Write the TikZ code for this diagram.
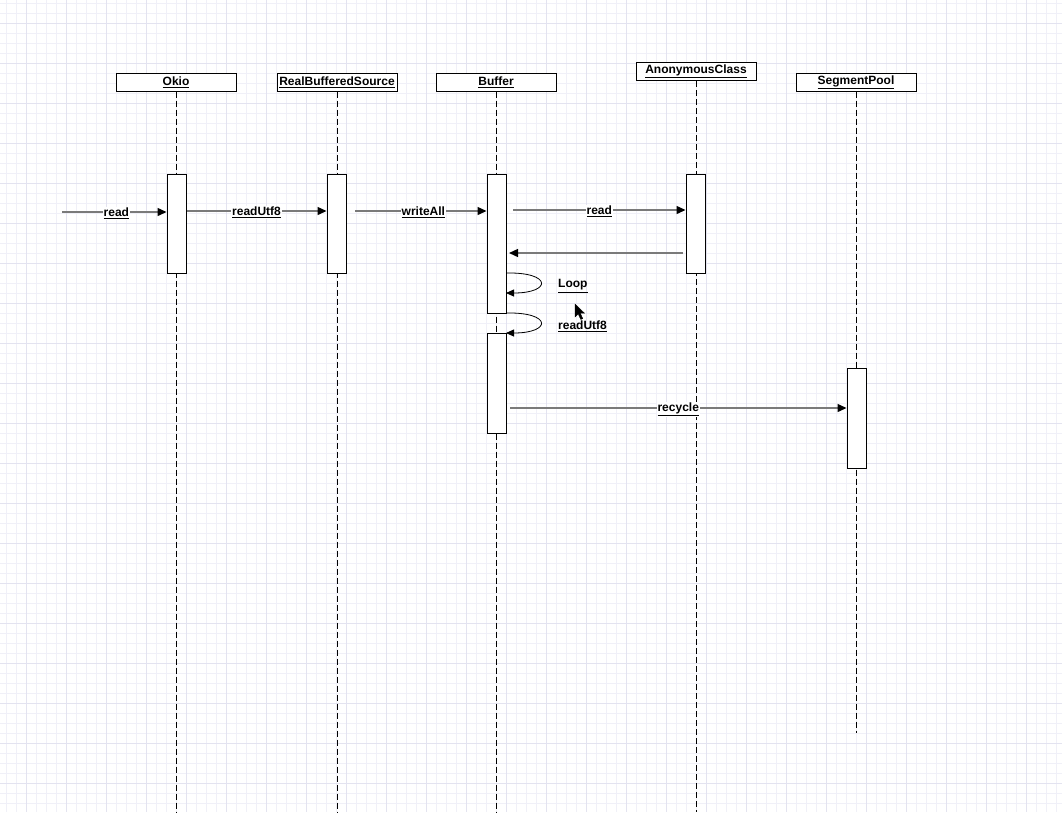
\documentclass[tikz,border=0pt]{standalone}
\usepackage{fontspec}
\setmainfont{Liberation Sans}
\usetikzlibrary{arrows.meta}
\definecolor{gridminor}{HTML}{F0F0F8}
\definecolor{gridmajor}{HTML}{E3E3F0}
\definecolor{msggray}{HTML}{7A7A7A}
\tikzset{
  head/.style={draw=black, fill=white, line width=1pt, minimum width=120pt, minimum height=18pt, inner sep=0pt,
    font=\bfseries\fontsize{12}{14}\selectfont},
  actbox/.style={draw=black, fill=white, line width=1pt, minimum width=19pt, inner sep=0pt},
  life/.style={draw=black, line width=1pt, dash pattern=on 6pt off 3pt},
  msg/.style={draw=msggray, line width=1.4pt, -{Triangle[length=9pt,width=8pt,fill=black,color=black]}},
  selfmsg/.style={draw=black, line width=0.8pt, -{Triangle[length=8pt,width=7pt,fill=black,color=black]}},
  lbl/.style={fill=white, inner sep=1pt, yshift=-1.5pt, font=\bfseries\fontsize{12}{14}\selectfont},
  lblplain/.style={inner sep=1pt, font=\bfseries\fontsize{12}{14}\selectfont}
}
\begin{document}
\begin{tikzpicture}[x=1pt,y=-1pt]
\useasboundingbox (0,0) rectangle (1062,812);
\fill[white] (0,0) rectangle (1062,812);
% grid
\foreach \x in {6,16,...,1062} \draw[gridminor, line width=0.8pt] (\x,0) -- (\x,812);
\foreach \y in {3,13,...,812} \draw[gridminor, line width=0.8pt] (0,\y) -- (1062,\y);
\foreach \x in {26,66,...,1062} \draw[gridmajor, line width=0.9pt] (\x,0) -- (\x,812);
\foreach \y in {23,63,...,812} \draw[gridmajor, line width=0.9pt] (0,\y) -- (1062,\y);

% headers
\node[head] (okio) at (176,82) {\underline{Okio}};
\node[head] (rbs) at (337,82) {\underline{RealBufferedSource}};
\node[head] (buf) at (496,82) {\underline{Buffer}};
\node[head] (anon) at (696,71.5) {\underline{AnonymousClass}};
\node[head] (seg) at (856,82) {\underline{SegmentPool}};

% lifeline ends
\coordinate (okioEnd) at (176,812);
\coordinate (rbsEnd) at (337,812);
\coordinate (bufEnd) at (496,812);
\coordinate (anonEnd) at (696,812);
\coordinate (segEnd) at (856,733);
\draw[life] (okio.south) -- (okioEnd);
\draw[life] (rbs.south) -- (rbsEnd);
\draw[life] (buf.south) -- (bufEnd);
\draw[life] (anon.south) -- (anonEnd);
\draw[life] (seg.south) -- (segEnd);

% activations
\node[actbox, minimum height=99pt] (okA) at (176.5,223.5) {};
\node[actbox, minimum height=99pt] (rbsA) at (336.5,223.5) {};
\node[actbox, minimum height=139pt] (bufA) at (496.5,243.5) {};
\node[actbox, minimum height=99pt] (anonA) at (695.5,223.5) {};
\node[actbox, minimum height=100pt] (bufB) at (496.5,383) {};
\node[actbox, minimum height=100pt] (segA) at (856.5,418) {};

% messages
\coordinate (start) at (62,212);
\draw[msg] (start) -- (okA.west |- start) node[lbl, pos=0.52] (l1) {\underline{read}};
\coordinate (m2) at (186,211);
\draw[msg] (okA.east |- m2) -- (rbsA.west |- m2) node[lbl, pos=0.5] (l2) {\underline{readUtf8}};
\coordinate (m3) at (355,211);
\draw[msg] (m3) -- (bufA.west |- m3) node[lbl, pos=0.52] (l3) {\underline{writeAll}};
\coordinate (m4) at (513,210);
\draw[msg] (m4) -- (anonA.west |- m4) node[lbl, pos=0.5] (l4) {\underline{read}};
\coordinate (m5a) at (683,253);
\coordinate (m5b) at (509,253);
\draw[msg] (m5a) -- (m5b);
% self loops
\coordinate (s1a) at (506,273);
\coordinate (s1b) at (506,293);
\draw[selfmsg] (s1a) .. controls (552,272) and (552,293) .. (s1b);
\node[lblplain, anchor=west] (loopl) at (557,286) {\underline{Loop}};
\coordinate (s2a) at (506,313);
\coordinate (s2b) at (506,333);
\draw[selfmsg] (s2a) .. controls (552,312) and (552,333) .. (s2b);
\node[lblplain, anchor=west] (rul) at (557,326) {\underline{readUtf8}};
% recycle
\coordinate (m6) at (510,408);
\draw[msg] (m6) -- (segA.west |- m6) node[lbl, pos=0.5] (l6) {\underline{recycle}};

% mouse cursor
\filldraw[black, line width=0.3pt] (575,304) -- (575,317) -- (578.2,314) -- (580.8,319.5) -- (582.8,318.6) -- (580.3,313.2) -- (584.5,313.2) -- cycle;
\end{tikzpicture}
\end{document}
